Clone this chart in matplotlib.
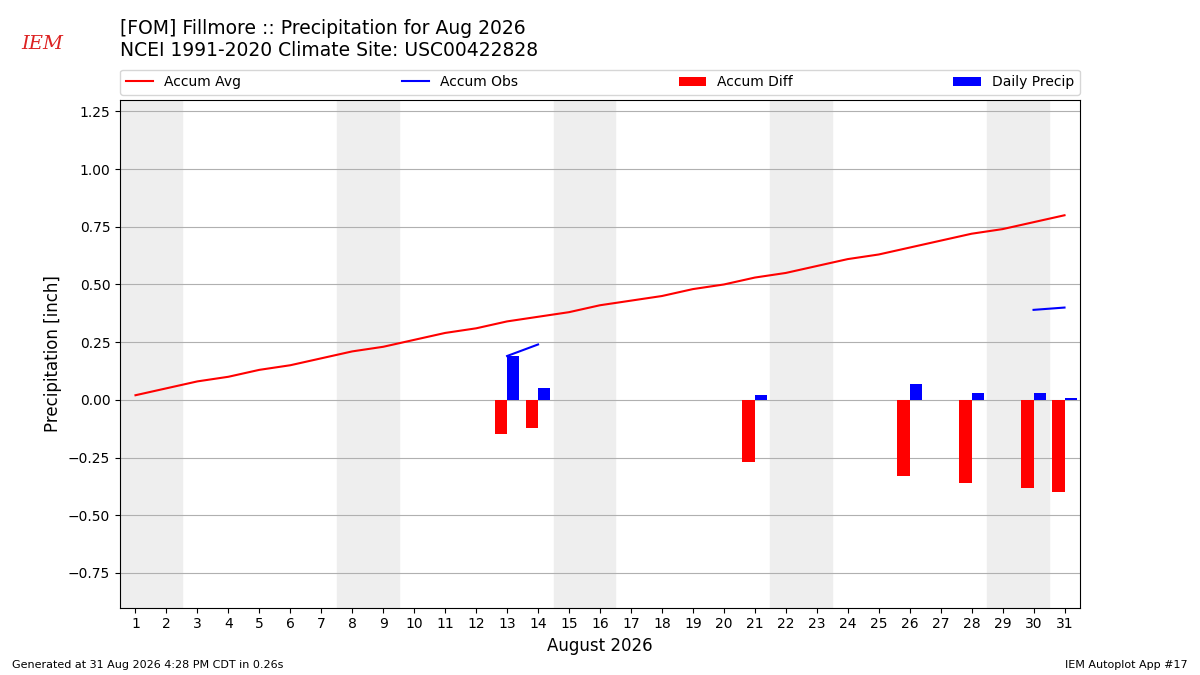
import numpy as np
import matplotlib; matplotlib.use("Agg")
import matplotlib.pyplot as plt

days = np.arange(1, 32)
accum_avg = [0.02, 0.05, 0.08, 0.10, 0.13, 0.15, 0.18, 0.21, 0.23, 0.26, 0.29, 0.31, 0.34, 0.36,
             0.38, 0.41, 0.43, 0.45, 0.48, 0.50, 0.53, 0.55, 0.58, 0.61, 0.63, 0.66, 0.69, 0.72,
             0.74, 0.77, 0.80]
obs_days = [13, 14, 30, 31]
accum_obs = [0.19, 0.24, 0.39, 0.40]
bar_days = [13, 14, 21, 26, 28, 30, 31]
accum_diff = [-0.15, -0.12, -0.27, -0.33, -0.36, -0.38, -0.40]
daily_precip = [0.19, 0.05, 0.02, 0.07, 0.03, 0.03, 0.01]
weekends = [1, 8, 15, 22, 29]

fig = plt.figure(figsize=(12, 6.75), dpi=100)
ax = fig.add_axes([0.1, 0.1, 0.8, 0.752])
for d in weekends:
    ax.axvspan(d - 0.5, d + 1.5, color="#eeeeee", zorder=0)
ax.grid(axis="y", color="#b0b0b0", zorder=1)
ax.set_axisbelow(True)
ax.plot(days, accum_avg, color="r", label="Accum Avg", zorder=3)
ax.plot(obs_days[:2], accum_obs[:2], color="b", label="Accum Obs", zorder=3)
ax.plot(obs_days[2:], accum_obs[2:], color="b", zorder=3)
bd = np.array(bar_days)
ax.bar(bd - 0.2, accum_diff, width=0.4, color="r", label="Accum Diff", zorder=2)
ax.bar(bd + 0.2, daily_precip, width=0.4, color="b", label="Daily Precip", zorder=2)
ax.set_xlim(0.5, 31.5)
ax.set_ylim(-0.9, 1.3)
ax.set_xticks(days)
ax.set_yticks(np.arange(-0.75, 1.26, 0.25))
ax.set_xlabel("August 2026", fontsize=12)
ax.set_ylabel("Precipitation [inch]", fontsize=12)
ax.legend(loc="lower left", bbox_to_anchor=(0, 1.01, 1, 0.05), ncol=4, mode="expand",
          borderaxespad=0, fontsize=10)
fig.text(0.1, 0.942, "[FOM] Fillmore :: Precipitation for Aug 2026\nNCEI 1991-2020 Climate Site: USC00422828",
         fontsize=13.5, va="center")
fig.text(0.035, 0.935, "IEM", color="#d22", fontsize=14, fontstyle="italic", family="serif", va="center", ha="center")
fig.text(0.01, 0.01, "Generated at 31 Aug 2026 4:28 PM CDT in 0.26s", fontsize=8)
fig.text(0.99, 0.01, "IEM Autoplot App #17", fontsize=8, ha="right")
fig.savefig("out.png")
